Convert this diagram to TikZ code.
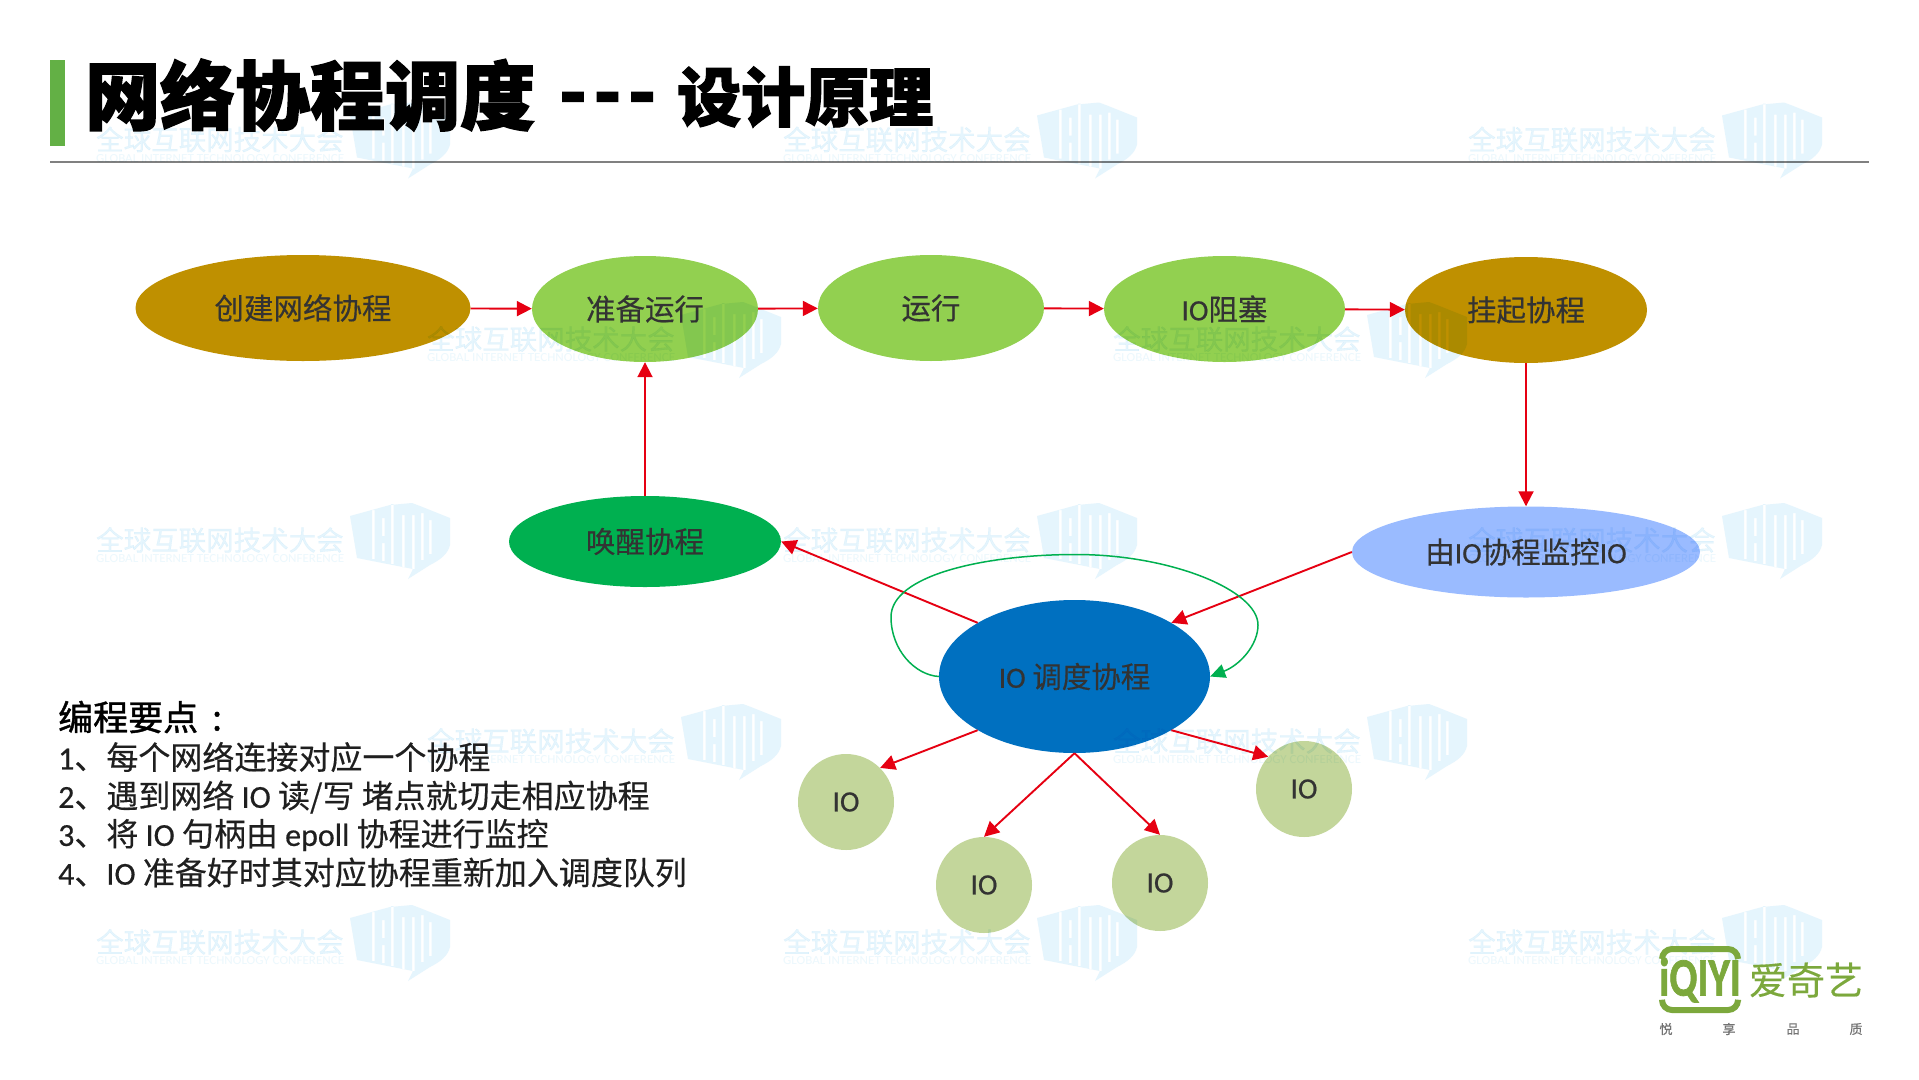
\documentclass[tikz,border=0pt]{standalone}
\usepackage{fontspec}
\setmainfont[FakeBold=0.35]{Noto Sans CJK SC}
\newfontfamily\iofont[FakeBold=0.5]{Carlito}
\newfontfamily\headfont[FakeBold=1.2]{Noto Sans CJK SC}
\newfontfamily\titlefont[BoldFeatures={FakeBold=2}]{Noto Sans CJK SC}
\newfontfamily\logofont[BoldFeatures={FakeBold=1.5}]{Carlito}
\newfontfamily\plainlatin{Carlito}
\usetikzlibrary{shapes.geometric,arrows.meta}
\definecolor{brownfill}{HTML}{BF9000}
\definecolor{limefill}{HTML}{92D050}
\definecolor{wakefill}{HTML}{00B050}
\definecolor{schedfill}{HTML}{0070C0}
\definecolor{monitorfill}{HTML}{9ABBFF}
\definecolor{iofill}{HTML}{C3D69B}
\definecolor{arrowred}{HTML}{E60012}
\definecolor{logogreen}{HTML}{7CA83C}
\definecolor{bargreen}{HTML}{63B045}
\definecolor{waterblue}{HTML}{E5F5FD}
\def\io{{\iofont IO}}
\def\nodefont{\fontsize{29.5}{30}\selectfont}
\def\listfont{\fontsize{32}{34}\selectfont}
\def\waterpiece#1(#2,#3){
	\node[waternode, anchor=west] (wm#1) at (#2, #3) {\fontsize{27.5}{28}\selectfont 全球互联网技术大会};
	\node[waternode, anchor=west, text=waterblue!75] (wmsub#1) at (#2, #3+19) {\resizebox{248pt}{8pt}{\plainlatin GLOBAL INTERNET TECHNOLOGY CONFERENCE}};
	\fill[waterblue, even odd rule] (#2+254, #3-24) -- (#2+294, #3-35) -- (#2+316, #3-37) -- (#2+324, #3-34) -- (#2+354, #3-22) -- (#2+354, #3+5)
		.. controls (#2+352, #3+14) and (#2+344, #3+20) .. (#2+334, #3+25) -- (#2+312, #3+39) -- (#2+317, #3+29) -- (#2+261, #3+18) -- cycle
		(#2+276, #3-30) rectangle (#2+278.5, #3+19)
		(#2+286, #3-22) rectangle (#2+288.5, #3-4)
		(#2+286, #3+3) rectangle (#2+288.5, #3+21)
		(#2+295, #3-36) rectangle (#2+297.5, #3+24)
		(#2+306, #3-25) rectangle (#2+308.5, #3+27)
		(#2+316, #3-25) rectangle (#2+318.5, #3+29)
		(#2+325, #3-27) rectangle (#2+327.5, #3+20)
		(#2+333, #3-20) rectangle (#2+335.5, #3+14);
}
\tikzset{
	stage/.style={ellipse, inner sep=0pt, text=black!80, font=\nodefont},
	iocircle/.style={stage, fill=iofill, minimum width=96pt, minimum height=96pt},
	flow/.style={draw=arrowred, line width=1.9pt, -{Triangle[length=15pt, width=15pt]}},
	loopback/.style={draw=wakefill, line width=1.5pt, -{Triangle[length=15pt, width=14pt]}},
	listline/.style={anchor=west, inner sep=0pt, text=black!88, font=\listfont},
	titletext/.style={anchor=west, inner sep=0pt, font=\titlefont\bfseries},
	waternode/.style={inner sep=0pt, text=waterblue},
	smallmark/.style={inner sep=0pt, text=black!55, font=\fontsize{13}{13}\selectfont}
}
\begin{document}
\begin{tikzpicture}[x=1pt, y=-1pt]
	\useasboundingbox (0, 0) rectangle (1919, 1079);
	\fill[white] (0, 0) rectangle (1919, 1079);

	%%%%% TITLE %%%%%
	\fill[bargreen] (50, 60) rectangle (65, 146);
	\draw[line width=2pt, color=black!50] (50, 161.5) -- (1869, 161.5);
	\node[titletext] (titlemain) at (85, 95) {\fontsize{75}{75}\selectfont 网络协程调度};
	\node[titletext] (titledash) at (559, 105) {\fontsize{72}{72}\selectfont -\kern7pt-\kern7pt-};
	\node[titletext] (titlesub) at (677, 97) {\fontsize{64}{64}\selectfont 设计原理};

	%%%%% STAGES %%%%%
	\node[stage, fill=brownfill, minimum width=335pt, minimum height=106pt] (create) at (303, 308) {创建网络协程};
	\node[stage, fill=limefill, minimum width=226pt, minimum height=106pt] (ready) at (645, 309) {准备运行};
	\node[stage, fill=limefill, minimum width=226pt, minimum height=106pt] (running) at (931, 308) {运行};
	\node[stage, fill=limefill, minimum width=241pt, minimum height=106pt] (blocked) at (1224.5, 309) {\io 阻塞};
	\node[stage, fill=brownfill, minimum width=242pt, minimum height=106pt] (suspend) at (1526, 310) {挂起协程};
	\node[stage, fill=wakefill, minimum width=272pt, minimum height=91pt] (wake) at (645, 541.5) {唤醒协程};
	\node[stage, fill=monitorfill, minimum width=348pt, minimum height=91pt] (monitor) at (1526, 552) {由\io 协程监控\io};
	\node[stage, fill=schedfill, minimum width=271pt, minimum height=153pt] (sched) at (1074.5, 676.5) {\io\ 调度协程};

	\node[iocircle] (iofirst) at (846, 802) {\io};
	\node[iocircle] (iosecond) at (984, 885) {\io};
	\node[iocircle] (iothird) at (1160, 883) {\io};
	\node[iocircle] (iofourth) at (1304, 789) {\io};

	%%%%% WATERMARK %%%%%
	\begin{scope}[blend mode=multiply]
		\foreach \i/\wx/\wy in {1/96/139.5, 2/783/139.5, 3/1468/139.5, 4/427/339, 5/1113/339, 6/96/540, 7/783/540, 8/1468/540, 9/427/741, 10/1113/741, 11/96/942, 12/783/942, 13/1468/942}
			{\waterpiece\i(\wx,\wy)}
	\end{scope}

	%%%%% CONNECTORS %%%%%
	\draw[flow] (create) -- (ready);
	\draw[flow] (ready) -- (running);
	\draw[flow] (running) -- (blocked);
	\draw[flow] (blocked) -- (suspend);
	\draw[flow] (suspend) -- (monitor);
	\draw[flow] (wake) -- (ready);
	\draw[flow] (monitor.west) -- (sched.29);
	\draw[flow] (sched.151) -- (wake.east);
	\draw[flow] (sched.209) -- (iofirst.45);
	\draw[flow] (sched.south) -- (iosecond.north);
	\draw[flow] (sched.south) -- (iothird.north);
	\draw[flow] (sched.331) -- (iofourth.138);
	\draw[loopback] (sched.west) .. controls (915, 675) and (891, 650) .. (891, 617)
		.. controls (891, 575) and (985, 554.5) .. (1076, 554.5)
		.. controls (1170, 554.5) and (1258, 590) .. (1258, 625)
		.. controls (1258, 645) and (1240, 665) .. (sched.east);

	%%%%% NOTES %%%%%
	\node[anchor=west, inner sep=0pt, font=\fontsize{35}{35}\headfont] (notehead) at (58, 717) {编程要点\kern14pt:};
	\node[listline] (noteone) at (58, 757) {{\iofont 1}、每个网络连接对应一个协程};
	\node[listline] (notetwo) at (58, 797) {{\iofont 2}、遇到网络 \io\ 读/写 堵点就切走相应协程};
	\node[listline] (notethree) at (58, 835) {{\iofont 3}、将 \io\ 句柄由 {\iofont epoll} 协程进行监控};
	\node[listline] (notefour) at (58, 872.5) {{\iofont 4}、\io\ 准备好时其对应协程重新加入调度队列};

	%%%%% LOGO %%%%%
	\draw[logogreen, line width=6pt, rounded corners=10pt] (1662, 959) -- (1662, 949) -- (1738, 949) -- (1738, 959);
	\draw[logogreen, line width=6pt, rounded corners=10pt] (1662, 1001) -- (1662, 1010) -- (1738, 1010) -- (1738, 1001);
	\node[inner sep=0pt, text=logogreen, font=\fontsize{54}{54}\logofont\bfseries] (logoword) at (1700, 980) {\scalebox{.76}[1]{iQIYI}};
	\node[inner sep=0pt, text=logogreen, font=\fontsize{38}{38}\selectfont] (logoname) at (1806, 980) {爱奇艺};
	\node[smallmark] (markone) at (1666, 1029) {悦};
	\node[smallmark] (marktwo) at (1729, 1029) {享};
	\node[smallmark] (markthree) at (1793, 1029) {品};
	\node[smallmark] (markfour) at (1856, 1029) {质};
\end{tikzpicture}
\end{document}
